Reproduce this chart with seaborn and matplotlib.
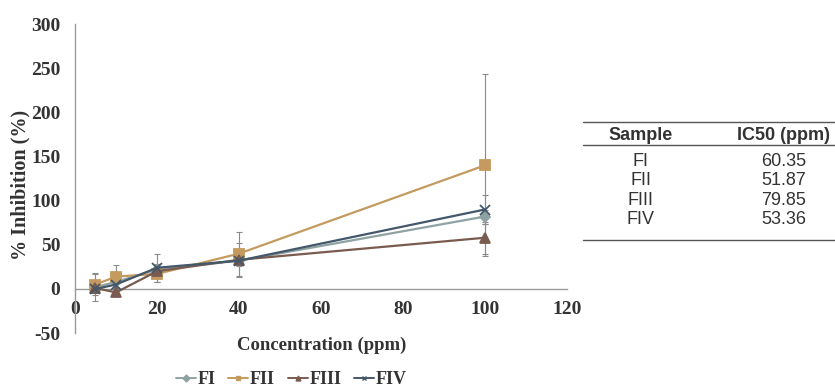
import pandas as pd
import numpy as np
import matplotlib
matplotlib.use("Agg")
import matplotlib.pyplot as plt
import seaborn as sns

# === Data ===
conc = [5, 10, 20, 40, 100]
samples = ["FI", "FII", "FIII", "FIV"]
fi_mean = [2, 8, 22, 32, 82]
fii_mean = [5, 14, 17, 40, 140]
fiii_mean = [1, -4, 20, 33, 58]
fiv_mean = [0, 5, 24, 32, 90]
fi_err = [16, 6, 6, 5, 8]
fii_err = [12, 13, 9, 25, 103]
fiii_err = [4, 4, 5, 19, 18]
fiv_err = [5, 7, 16, 6, 16]
ic50 = [60.35, 51.87, 79.85, 53.36]

means = [fi_mean, fii_mean, fiii_mean, fiv_mean]
errs = [fi_err, fii_err, fiii_err, fiv_err]
colors = {"FI": "#8fa2a3", "FII": "#c49a5e", "FIII": "#7a5b4f", "FIV": "#43586a"}
markers = {"FI": "D", "FII": "s", "FIII": "^", "FIV": "x"}
msizes = {"FI": 5, "FII": 6.5, "FIII": 7, "FIV": 7}

df = pd.DataFrame({
    "conc": np.tile(conc, len(samples)),
    "inhibition": np.concatenate(means),
    "err": np.concatenate(errs),
    "sample": np.repeat(samples, len(conc)),
})

sns.set_style("white")
plt.rcParams['font.family'] = ['Liberation Serif', 'DejaVu Serif']
plt.rcParams['axes.unicode_minus'] = False

fig = plt.figure(figsize=(8.35, 3.9), dpi=100)
ax = fig.add_axes([0.0898, 0.146, 0.589, 0.792])

# error bars first so the lines sit on top
for s, m, e in zip(samples, means, errs):
    ax.errorbar(conc, m, yerr=e, fmt="none", ecolor="#8a8a8a", elinewidth=0.8,
                capsize=2.5, capthick=0.8, zorder=1)

# one lineplot per sample (filled and line markers can't share one call)
for s in samples:
    sub = df[df["sample"] == s]
    sns.lineplot(data=sub, x="conc", y="inhibition", color=colors[s],
                 marker=markers[s], markersize=msizes[s], linewidth=1.6,
                 markeredgewidth=1.3, markeredgecolor=colors[s],
                 ax=ax, legend=False, zorder=3)

ax.set_xlim(0, 120)
ax.set_ylim(-50, 300)
ax.set_xticks(range(0, 121, 20))
ax.set_yticks(range(-50, 301, 50))
for sp in ["top", "right"]:
    ax.spines[sp].set_visible(False)
ax.spines["bottom"].set_position(("data", 0))
for sp in ["left", "bottom"]:
    ax.spines[sp].set_color("#9a9a9a")
    ax.spines[sp].set_linewidth(1.0)
ax.tick_params(axis="both", direction="out", length=4, width=1.0, color="#9a9a9a",
               labelsize=14)
ax.tick_params(axis="y", pad=6.5)
ax.tick_params(axis="x", pad=5)
for lab in ax.get_xticklabels() + ax.get_yticklabels():
    lab.set_fontweight("bold")
    lab.set_color("#333333")

ax.set_xlabel("")
ax.set_ylabel("")
fig.text(0.024, 0.525, "% Inhibition (%)", rotation=90, ha="center", va="center",
         fontsize=14.5, fontweight="bold", color="#333333")
fig.text(0.385, 0.115, "Concentration (ppm)", ha="center", va="center",
         fontsize=13.5, fontweight="bold", color="#333333")

# legend below the axis label
handles = [plt.Line2D([], [], color=colors[s], marker=markers[s], markersize=3.5,
                      linewidth=1.4, markeredgewidth=1.0) for s in samples]
fig.legend(handles, samples, loc="center", bbox_to_anchor=(0.349, 0.026), ncol=4,
           frameon=False, handlelength=1.1, handletextpad=0.1, columnspacing=0.7,
           prop={"family": "Liberation Serif", "weight": "bold", "size": 13},
           labelcolor="#333333")

# === IC50 table ===
tax = fig.add_axes([0.698, (390 - 240) / 390, 0.302, 118 / 390])
tax.set_xlim(0, 1)
tax.set_ylim(0, 1)
tax.axis("off")
for y in [1.0, 0.805, 0.0]:
    tax.plot([0, 1], [y, y], color="#555555", linewidth=1.0, clip_on=False)
tfont = {"family": "Liberation Sans", "size": 13, "color": "#333333"}
tax.text(0.23, 0.885, "Sample", ha="center", va="center", fontweight="bold", **tfont)
tax.text(0.797, 0.885, "IC50 (ppm)", ha="center", va="center", fontweight="bold", **tfont)
row_y = [0.665, 0.503, 0.334, 0.173]
for s, v, y in zip(samples, ic50, row_y):
    tax.text(0.23, y, s, ha="center", va="center", **tfont)
    tax.text(0.797, y, f"{v:.2f}", ha="center", va="center", **tfont)

fig.savefig("out.png", dpi=100)
